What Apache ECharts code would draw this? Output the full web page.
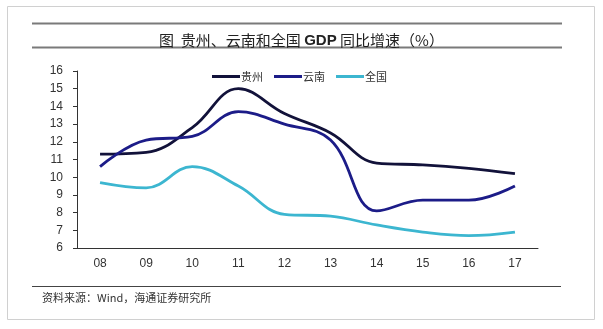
<!DOCTYPE html>
<html>
<head>
<meta charset="utf-8">
<script src="https://cdn.jsdelivr.net/npm/echarts@6/dist/echarts.min.js"></script>
<style>html,body{margin:0;padding:0;background:#fff}#c{width:603px;height:329px}</style>
</head>
<body>
<div id="c"></div>
<script>
var years = ['08','09','10','11','12','13','14','15','16','17'];
var guizhou = [11.3, 11.4, 12.8, 15.0, 13.6, 12.5, 10.8, 10.7, 10.5, 10.2];
var yunnan = [10.6, 12.1, 12.3, 13.7, 13.0, 12.1, 8.1, 8.7, 8.7, 9.5];
var national = [9.7, 9.4, 10.6, 9.5, 7.9, 7.8, 7.3, 6.9, 6.7, 6.9];
var titlePart1 = '图  贵州、云南和全国 ';
var titlePart2 = 'GDP';
var titlePart3 = ' 同比增速（%）';
var sourceText = '资料来源：Wind，海通证券研究所';

var chart = echarts.init(document.getElementById('c'), null, {renderer: 'canvas'});
var cjk = '"Noto Sans CJK SC", "Liberation Sans", sans-serif';
chart.setOption({
  animation: false,
  backgroundColor: '#fff',
  title: {
    text: '{a|' + titlePart1 + '}{b|' + titlePart2 + '}{a|' + titlePart3 + '}',
    left: 'center',
    top: 28,
    textStyle: {
      rich: {
        a: {fontSize: 15, fontWeight: 'normal', color: '#222', fontFamily: cjk},
        b: {fontSize: 15, fontWeight: 'bold', color: '#222', fontFamily: '"Liberation Sans", Arial, sans-serif'}
      }
    }
  },
  legend: {
    top: 66,
    left: 207,
    icon: 'rect',
    itemWidth: 28,
    itemHeight: 3,
    itemGap: 11,
    textStyle: {fontSize: 11, color: '#333', fontFamily: cjk, padding: [0,0,0,-4]},
    data: ['贵州', '云南', '全国']
  },
  grid: {left: 77, right: 65, top: 71, bottom: 81},
  xAxis: {
    type: 'category',
    data: years,
    boundaryGap: true,
    axisLine: {lineStyle: {color: '#333', width: 1}},
    axisTick: {inside: true, length: 4, lineStyle: {color: '#333'}},
    axisLabel: {fontSize: 12, color: '#333', margin: 10, fontFamily: '"Liberation Sans", Arial, sans-serif'}
  },
  yAxis: {
    type: 'value',
    min: 6, max: 16, interval: 1,
    splitLine: {show: false},
    axisLine: {show: true, lineStyle: {color: '#333', width: 1}},
    axisTick: {show: true, length: 4, lineStyle: {color: '#333'}},
    axisLabel: {fontSize: 12, color: '#333', margin: 14, fontFamily: '"Liberation Sans", Arial, sans-serif'}
  },
  series: [
    {name: '贵州', type: 'line', data: guizhou, smooth: 0.4, showSymbol: false, symbol: 'none',
     lineStyle: {color: '#12123a', width: 2.8}, itemStyle: {color: '#12123a'}},
    {name: '云南', type: 'line', data: yunnan, smooth: 0.4, showSymbol: false, symbol: 'none',
     lineStyle: {color: '#1c1c88', width: 2.8}, itemStyle: {color: '#1c1c88'}},
    {name: '全国', type: 'line', data: national, smooth: 0.4, showSymbol: false, symbol: 'none',
     lineStyle: {color: '#3cb6d0', width: 2.8}, itemStyle: {color: '#3cb6d0'}}
  ],
  graphic: [
    {type: 'rect', shape: {x: 7.5, y: 6.5, width: 587, height: 313}, style: {fill: 'none', stroke: '#d0d0d0', lineWidth: 1}, z: -1},
    {type: 'line', shape: {x1: 32, y1: 23.5, x2: 562, y2: 23.5}, style: {stroke: '#7a7a7a', lineWidth: 2}},
    {type: 'line', shape: {x1: 32, y1: 47.5, x2: 562, y2: 47.5}, style: {stroke: '#7a7a7a', lineWidth: 2}},
    {type: 'line', shape: {x1: 32, y1: 286.5, x2: 561, y2: 286.5}, style: {stroke: '#444', lineWidth: 1.2}},
    {type: 'text', left: 42, top: 292, style: {text: sourceText, fontSize: 11, fill: '#333', fontFamily: cjk}}
  ]
});
</script>
</body>
</html>
